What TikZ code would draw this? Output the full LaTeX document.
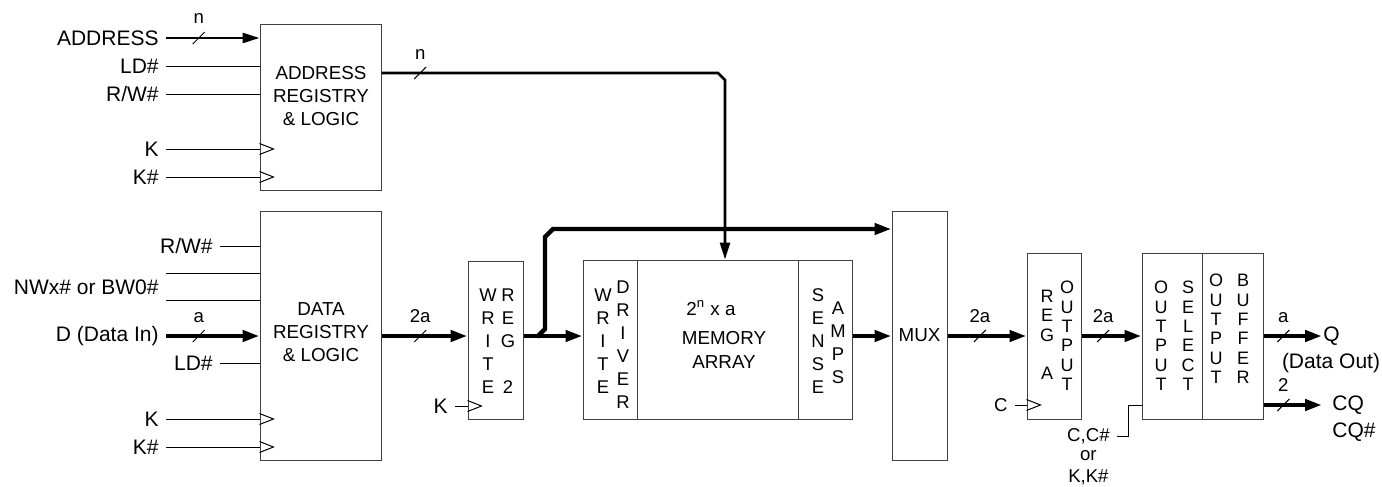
\documentclass[tikz,border=0pt]{standalone}
\usepackage{fontspec}
\setmainfont{Liberation Sans}
\usetikzlibrary{arrows.meta,fit,positioning}

\tikzset{
  lbl/.style={font=\fontsize{10.5}{12.6}\selectfont, inner xsep=3.5pt, inner ysep=1pt},
  lbltwo/.style={font=\fontsize{9.3}{10.5}\selectfont, inner xsep=3.5pt, inner ysep=1pt},
  txt/.style={font=\fontsize{9.4}{11.6}\selectfont, align=center, inner sep=0pt},
  col/.style={font=\fontsize{9.2}{11.5}\selectfont, align=center, inner sep=0pt},
  colsm/.style={font=\fontsize{9}{9.7}\selectfont, align=center, inner sep=0pt},
  blbl/.style={font=\fontsize{9.3}{10.5}\selectfont, inner sep=0pt},
  blk/.style={draw=black!75, line width=.5pt, inner sep=0pt},
  wire/.style={line width=.5pt},
  abus/.style={line width=1.3pt, -{Triangle[length=8.5pt,width=5pt]}},
  dbus/.style={line width=2.2pt, -{Triangle[length=8.5pt,width=5.5pt]}},
  pics/bw/.style={code={
    \draw[line width=.5pt,-] (-6,6) -- (6,-6);
    \node[blbl, anchor=base] at (0,-14) {#1};}},
  pics/clk/.style={code={
    \draw[line width=.5pt,-] (0,-5.5) -- (14,0) -- (0,5.5);}}
}

\begin{document}
\begin{tikzpicture}[x=0.5pt,y=-0.5pt]
\useasboundingbox (0,0) rectangle (1382,487);

\node[blk, fit={(260,24) (381,190)}] (addr) {};
\node[txt] (addrT) at (321,96) {ADDRESS\\REGISTRY\\\& LOGIC};

\node[lbl, anchor=east] (lAddr) at (166,38) {ADDRESS};
\node[lbl, anchor=east] (lLdA) at (166,66) {LD\#};
\node[lbl, anchor=east] (lRwA) at (166,94) {R/W\#};
\node[lbl, anchor=east] (lKA) at (166,149) {K};
\node[lbl, anchor=east] (lKbA) at (166,177) {K\#};

\draw[abus] (lAddr) -- pic[pos=.35]{bw=n} (addr.west |- lAddr);
\draw[wire] (lLdA) -- (addr.west |- lLdA);
\draw[wire] (lRwA) -- (addr.west |- lRwA);
\draw[wire] (lKA) -- (addr.west |- lKA) pic{clk};
\draw[wire] (lKbA) -- (addr.west |- lKbA) pic{clk};

\node[blk, fit={(260,211) (381,460)}] (dreg) {};
\node[txt] (dregT) at (321,332) {DATA\\REGISTRY\\\& LOGIC};

\node[lbl, anchor=east] (lRwD) at (220,246) {R/W\#};
\node[lbl, anchor=east] (lNw) at (166,287) {NWx\# or BW0\#};
\node[lbl, anchor=east] (lD) at (166,336) {D (Data In)};
\node[lbl, anchor=east] (lLdD) at (220,363) {LD\#};
\node[lbl, anchor=east] (lKD) at (166,419) {K};
\node[lbl, anchor=east] (lKbD) at (166,447) {K\#};

\draw[wire] (lRwD) -- (dreg.west |- lRwD);
\draw[wire] (lNw.east |- 0,273) -- (dreg.west |- 0,273);
\draw[wire] (lNw.east |- 0,300) -- (dreg.west |- 0,300);
\draw[dbus] (lD) -- pic[pos=.35]{bw=a} (dreg.west |- lD);
\draw[wire] (lLdD) -- (dreg.west |- lLdD);
\draw[wire] (lKD) -- (dreg.west |- lKD) pic{clk};
\draw[wire] (lKbD) -- (dreg.west |- lKbD) pic{clk};

\node[blk, fit={(468,261) (523,419)}] (wreg) {};
\node[col] (wregA) at (488,341) {W\\R\\I\\T\\E};
\node[col] (wregB) at (508,341) {R\\E\\G\\~\\2};
\node[lbl, anchor=east] (lKW) at (455,406) {K};
\draw[wire] (lKW) -- (wreg.west |- lKW) pic{clk};

\node[blk, fit={(583,260) (637,419)}] (wdrv) {};
\node[blk, fit={(637,260) (798,419)}] (marr) {};
\node[blk, fit={(798,260) (852,419)}] (samp) {};
\node[col] (wdrvA) at (603,341) {W\\R\\I\\T\\E};
\node[col] (wdrvB) at (623,345) {D\\R\\I\\V\\E\\R};
\node[txt] (marrA) at (711,308) {2\textsuperscript{n} x a};
\node[txt] (marrB) at (724,350) {MEMORY\\ARRAY};
\node[col] (sampA) at (818,341) {S\\E\\N\\S\\E};
\node[col] (sampB) at (838,343) {A\\M\\P\\S};

\node[blk, fit={(892,211) (947,460)}] (mux) {};
\node[txt] (muxT) at (mux.center) {MUX};

\node[blk, fit={(1027,253) (1081,419)}] (oreg) {};
\node[colsm] (oregA) at (1047,335) {R\\E\\G\\~\\A};
\node[colsm] (oregB) at (1067,336) {O\\U\\T\\P\\U\\T};
\node[lbltwo, anchor=east] (lC) at (1015,405) {C};
\draw[wire] (lC) -- (oreg.west |- lC) pic{clk};

\node[blk, fit={(1142,253) (1202,419)}] (osel) {};
\node[blk, fit={(1202,253) (1263,419)}] (obuf) {};
\node[colsm] (oselA) at (1161,336) {O\\U\\T\\P\\U\\T};
\node[colsm] (oselB) at (1188,336) {S\\E\\L\\E\\C\\T};
\node[colsm] (obufA) at (1216,329) {O\\U\\T\\P\\U\\T};
\node[colsm] (obufB) at (1243,329) {B\\U\\F\\F\\E\\R};

\node[lbltwo, anchor=east] (lCc) at (1117,436) {C,C\#};
\node[lbltwo] (lOr) at (lCc.center |- 0,456) {or};
\node[lbltwo] (lKk) at (lCc.center |- 0,477) {K,K\#};
\draw[wire] (lCc) -- (1128,436) -- (1128,405) -- (osel.west |- 0,405);

\node[lbl, anchor=west, inner xsep=0.5pt] (lQ) at (1322,336) {Q};
\node[lbl, inner sep=0pt] (lDo) at (1331,363) {(Data Out)};
\node[lbl, anchor=west, inner xsep=5pt] (lCq) at (1322,405) {CQ};
\node[lbl, anchor=west, inner xsep=5pt] (lCqb) at (1322,432) {CQ\#};

% buses
\draw[abus] (addr.east |- 0,73) -- pic[pos=.115]{bw=n} (718,73) -- (725,80) -- (725,0 |- marr.north);
\draw[dbus] (dreg.east |- lD) -- pic[pos=.45]{bw=2a} (wreg.west |- lD);
\draw[dbus] (wreg.east |- lD) -- (wdrv.west |- lD);
\coordinate (brA) at (537,337);
\draw[dbus] (brA) -- (545,329) -- (545,237) -- (553,229) -- (mux.west |- 0,229);
\draw[dbus] (samp.east |- lD) -- (mux.west |- lD);
\draw[dbus] (mux.east |- lD) -- pic[pos=.41]{bw=2a} (oreg.west |- lD);
\draw[dbus] (oreg.east |- lD) -- pic[pos=.36]{bw=2a} (osel.west |- lD);
\draw[dbus] (obuf.east |- lD) -- pic[pos=.34]{bw=a} (lQ.west);
\draw[dbus] (obuf.east |- lCq) -- pic[pos=.34]{bw=2} (lCq.west);
\end{tikzpicture}
\end{document}
